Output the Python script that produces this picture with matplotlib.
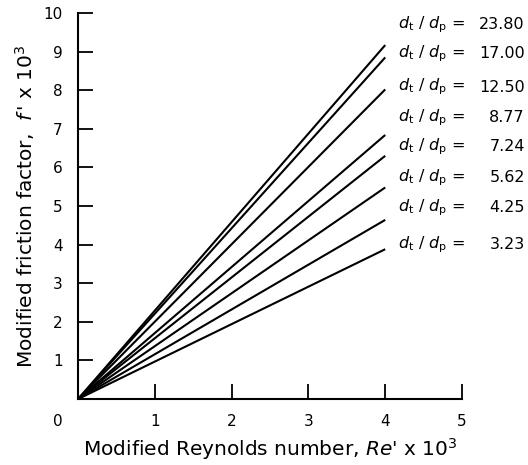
import matplotlib
matplotlib.use("Agg")
import matplotlib.pyplot as plt

plt.rcParams['font.family'] = ['DejaVu Sans']
plt.rcParams['mathtext.fontset'] = 'dejavusans'

# Data
ratios = ["23.80", "17.00", "12.50", "8.77", "7.24", "5.62", "4.25", "3.23"]
re_start = 0.0
re_end = 4.0
f_end = [9.17, 8.85, 8.02, 6.84, 6.30, 5.48, 4.64, 3.88]
label_y = [9.69, 8.94, 8.08, 7.28, 6.53, 5.73, 4.95, 3.99]
x_ticks = [1, 2, 3, 4, 5]
y_ticks = [1, 2, 3, 4, 5, 6, 7, 8, 9, 10]

fig = plt.figure(figsize=(5.28, 4.65), dpi=100)
ax = fig.add_axes([0.148, 0.142, 0.727, 0.830])

for fe in f_end:
    ax.plot([re_start, re_end], [0.0, fe], color='black', lw=1.5, solid_capstyle='butt')

for r, ly in zip(ratios, label_y):
    ax.text(4.17, ly, r"$d_{\rm t}$ / $d_{\rm p}$ =", fontsize=11.5, ha='left', va='center', clip_on=False)
    ax.text(5.82, ly, r, fontsize=11.5, ha='right', va='center', clip_on=False)

ax.set_xlim(0, 5)
ax.set_ylim(0, 10)
ax.set_xticks(x_ticks)
ax.set_yticks(y_ticks)
ax.tick_params(direction='in', length=11, width=1.3, labelsize=11)
ax.tick_params(axis='x', pad=11)
ax.tick_params(axis='y', pad=11)
for s in ['top', 'right']:
    ax.spines[s].set_visible(False)
for s in ['left', 'bottom']:
    ax.spines[s].set_linewidth(1.5)

ax.text(-0.26, -0.58, "0", fontsize=11, ha='center', va='center', clip_on=False)

ax.set_xlabel("Modified Reynolds number, $Re$' x 10$^3$", fontsize=14.5, labelpad=5)
ax.set_ylabel(r"Modified friction factor,  $f\,$' x 10$^3$", fontsize=14.5, labelpad=5)

fig.savefig("out.png", dpi=100)
